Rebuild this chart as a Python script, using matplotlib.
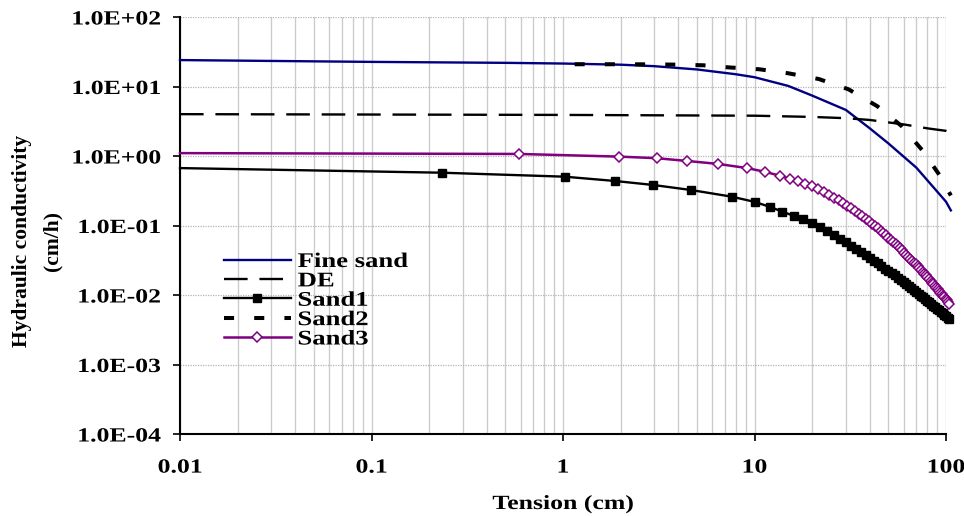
import numpy as np
import matplotlib
matplotlib.use("Agg")
import matplotlib.pyplot as plt
from matplotlib.ticker import FixedLocator, FixedFormatter, LogLocator, NullLocator, NullFormatter
from matplotlib.patheffects import AbstractPathEffect
from matplotlib.transforms import Affine2D
from matplotlib.font_manager import FontProperties

# ---------------- data ----------------
fine_x = [0.01, 0.1, 0.5, 1, 2, 3, 5, 8, 10, 15, 20, 30, 40, 50, 70, 100, 106]
fine_k = [24.0, 22.6, 21.9, 21.4, 20.6, 19.6, 17.6, 15.0, 13.6, 10.2, 7.4, 4.6, 2.5, 1.52, 0.68, 0.22, 0.165]

de_x = [0.01, 1, 10, 20, 30, 40, 60, 80, 100, 106]
de_k = [4.0, 3.9, 3.8, 3.65, 3.5, 3.3, 2.85, 2.5, 2.3, 2.15]

sand1_x = [0.01, 0.233, 1.02, 1.87, 2.96, 4.66, 7.6, 10, 12, 14, 16, 18,
           20, 22, 24, 26, 28, 30, 32, 34, 36, 38, 40, 42, 44, 46, 48, 50,
           52, 54, 56, 58, 60, 62, 64, 66, 68, 70, 72, 74, 76, 78, 80, 82,
           84, 86, 88, 90, 92, 94, 96, 98, 100, 102, 104]
sand1_k = [0.67, 0.575, 0.504, 0.437, 0.383, 0.324, 0.26, 0.219, 0.186, 0.158, 0.138, 0.122,
           0.109, 0.0946, 0.0824, 0.0724, 0.0640, 0.0570, 0.0509, 0.0458, 0.0414, 0.0374,
           0.0340, 0.0311, 0.0285, 0.0261, 0.0240, 0.0222, 0.0205, 0.0191, 0.0177, 0.0165,
           0.0153, 0.0144, 0.0134, 0.0125, 0.0117, 0.0111, 0.0104, 0.00982, 0.00923, 0.00875,
           0.00826, 0.00782, 0.00741, 0.00705, 0.00668, 0.00634, 0.00601, 0.00573, 0.00547,
           0.00521, 0.00497, 0.00473, 0.00453]

sand2_x = [1.15, 2, 3, 4, 5.4, 7.4, 10.6, 15, 21.7, 31, 43.8, 58.6, 75, 93, 106]
sand2_k = [20.9, 20.9, 20.8, 20.6, 20.2, 18.8, 17.7, 15.5, 12.8, 9.1, 5.2, 2.7, 1.22, 0.52, 0.27]

sand3_x = [0.01, 0.59, 1.96, 3.08, 4.42, 6.43, 9.17, 11.4, 13.6, 15.3, 16.9, 18.4, 19.9,
           21.5, 23, 24.5, 26, 27.5, 29, 30.5, 32, 33.5, 35, 36.5, 38, 39.5, 41, 42.5, 44,
           45.5, 47, 48.5, 50, 51.5, 53, 54.5, 56, 57.5, 59, 60.5, 62, 63.5, 65, 66.5, 68,
           69.5, 71, 72.5, 74, 75.5, 77, 78.5, 80, 81.5, 83, 84.5, 86, 87.5, 89, 90.5, 92,
           93.5, 95, 96.5, 98, 99.5, 101, 102.5, 104]
sand3_k = [1.10, 1.07, 0.98, 0.93, 0.85, 0.77, 0.67, 0.59, 0.52, 0.47, 0.43, 0.40, 0.365,
           0.3307, 0.3019, 0.2756, 0.2517, 0.2300, 0.2103, 0.1925, 0.1764, 0.1618, 0.1485,
           0.1365, 0.1256, 0.1157, 0.1067, 0.0985, 0.0910, 0.0842, 0.0780, 0.0723, 0.0671,
           0.0623, 0.0579, 0.0539, 0.0502, 0.0468, 0.0437, 0.0408, 0.0381, 0.0356, 0.0334,
           0.0313, 0.0293, 0.0275, 0.0258, 0.0243, 0.0228, 0.0215, 0.0202, 0.0191, 0.0180,
           0.0169, 0.0160, 0.0151, 0.0143, 0.0135, 0.0128, 0.0121, 0.0114, 0.0108, 0.0103,
           0.00975, 0.00925, 0.00878, 0.00834, 0.00793, 0.00754]

x_ticks = [0.01, 0.1, 1, 10, 100]
x_tick_labels = ["0.01", "0.1", "1", "10", "100"]
y_ticks = [1e-4, 1e-3, 1e-2, 1e-1, 1e0, 1e1, 1e2]
y_tick_labels = ["1.0E-04", "1.0E-03", "1.0E-02", "1.0E-01", "1.0E+00", "1.0E+01", "1.0E+02"]


class StretchX(AbstractPathEffect):
    """Widen glyphs horizontally (the reference text is horizontally stretched)."""

    def __init__(self, sx=1.28, anchor="center"):
        super().__init__()
        self.sx = sx
        self.anchor = anchor

    def draw_path(self, renderer, gc, tpath, affine, rgbFace=None):
        ext = tpath.get_extents()
        if self.anchor == "left":
            px = ext.x0
        elif self.anchor == "right":
            px = ext.x1
        else:
            px = 0.5 * (ext.x0 + ext.x1)
        t = Affine2D().translate(-px, 0).scale(self.sx, 1).translate(px, 0) + affine
        renderer.draw_path(gc, tpath, t, rgbFace)


# ---------------- figure ----------------
W, H = 964, 516
SX = 1.28
fig = plt.figure(figsize=(W / 100, H / 100), dpi=100)
ax = fig.add_axes([180 / W, 1 - 434 / H, (946 - 180) / W, (434 - 17) / H])
ax.set_xscale("log")
ax.set_yscale("log")
ax.set_xlim(0.01, 100)
ax.set_ylim(1e-4, 1e2)

serif = ["Liberation Serif", "DejaVu Serif"]
tick_fp = FontProperties(family=serif, weight="bold", size=14.5)

ax.xaxis.set_major_locator(FixedLocator(x_ticks))
ax.xaxis.set_major_formatter(FixedFormatter(x_tick_labels))
ax.xaxis.set_minor_locator(LogLocator(base=10, subs=np.arange(2, 10)))
ax.xaxis.set_minor_formatter(NullFormatter())
ax.yaxis.set_major_locator(FixedLocator(y_ticks))
ax.yaxis.set_major_formatter(FixedFormatter(y_tick_labels))
ax.yaxis.set_minor_locator(NullLocator())

ax.tick_params(axis="both", which="major", direction="out", length=5, width=1.2,
               color="black")
ax.tick_params(axis="y", which="major", pad=9)
ax.tick_params(axis="x", which="major", pad=12)
ax.tick_params(axis="x", which="minor", length=0)

for t in ax.xaxis.get_major_ticks():
    t.label1.set_fontproperties(tick_fp)
    t.label1.set_path_effects([StretchX(SX, "center")])
for t in ax.yaxis.get_major_ticks():
    t.label1.set_fontproperties(tick_fp)
    t.label1.set_path_effects([StretchX(SX, "right")])

ax.grid(True, which="both", axis="x", color="#cccccc", lw=1.0, ls="-")
ax.grid(True, which="major", axis="y", color="#b4b4b4", lw=0.9, ls=(0, (1, 1)))
ax.set_axisbelow(True)

for s in ["top", "right"]:
    ax.spines[s].set_visible(False)
for s in ["left", "bottom"]:
    ax.spines[s].set_linewidth(1.5)
    ax.spines[s].set_color("black")

ax.plot(fine_x, fine_k, color="#000080", lw=1.7, label="Fine sand", clip_on=False, zorder=3)
ax.plot(de_x, de_k, color="black", lw=1.7, dashes=(10, 5), label="DE", clip_on=False, zorder=3)
ax.plot(sand1_x, sand1_k, color="black", lw=1.7, marker="s", ms=6,
        markevery=slice(1, None), label="Sand1", clip_on=False, zorder=3)
ax.plot(sand2_x, sand2_k, color="black", lw=2.9, dashes=(2.5, 5), label="Sand2",
        clip_on=False, zorder=3)
ax.plot(sand3_x, sand3_k, color="#800080", lw=1.8, marker="D", ms=5, mfc="white",
        mec="#800080", mew=1.1, markevery=slice(1, None), label="Sand3",
        clip_on=False, zorder=4)

leg = ax.legend(loc="upper left", bbox_to_anchor=(224 / W, 1 - 252 / H),
                bbox_transform=fig.transFigure, frameon=False,
                prop=FontProperties(family=serif, weight="bold", size=15),
                handlelength=3.2, handletextpad=0.34, labelspacing=-0.03,
                borderpad=0, borderaxespad=0, numpoints=1)
for txt in leg.get_texts():
    txt.set_path_effects([StretchX(SX, "left")])

lab_font = dict(family=serif, weight="bold", size=14.5)
xl = fig.text(563 / W, 1 - 504 / H, "Tension (cm)", ha="center", va="center", **lab_font)
xl.set_path_effects([StretchX(SX, "center")])
ylab_font = dict(family=serif, weight="bold", size=15.5)
fig.text(22 / W, 1 - 241 / H, "Hydraulic conductivity", rotation=90,
         ha="center", va="center", **ylab_font)
fig.text(52 / W, 1 - 241 / H, "(cm/h)", rotation=90, ha="center", va="center", **ylab_font)

fig.savefig("out.png", dpi=100)
